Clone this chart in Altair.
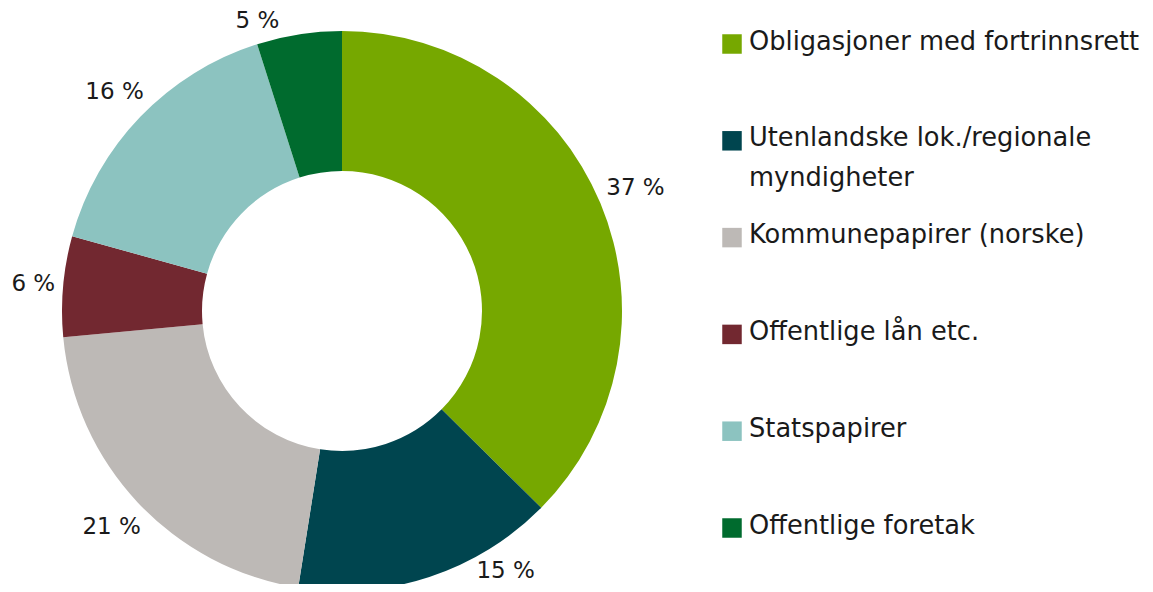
import altair as alt
import pandas as pd

categories = [
    "Obligasjoner med fortrinnsrett",
    "Utenlandske lok./regionale\nmyndigheter",
    "Kommunepapirer (norske)",
    "Offentlige lån etc.",
    "Statspapirer",
    "Offentlige foretak",
]
values = [37.4, 15.1, 21.0, 5.8, 15.8, 4.9]
labels = ["37 %", "15 %", "21 %", "6 %", "16 %", "5 %"]
colors = ["#76A800", "#00454F", "#BDB9B6", "#722830", "#8CC3C0", "#006B2E"]

df = pd.DataFrame({
    "cat": categories,
    "value": values,
    "label": labels,
    "idx": list(range(len(categories))),
})

FONT = "DejaVu Sans"
CX, CY = 334, 303
R_OUT, R_IN = 280, 140
R0 = 288           # gap circle for the outside labels
YMIN, YMAX = 13, 563  # keep labels inside the drawing

color = alt.Color("cat:N", scale=alt.Scale(domain=categories, range=colors), legend=None)

arc = alt.Chart(df).mark_arc(outerRadius=R_OUT, innerRadius=R_IN).encode(
    theta=alt.Theta("value:Q", stack=True),
    color=color,
    order=alt.Order("idx:Q"),
    x=alt.value(CX),
    y=alt.value(CY),
)

pct = alt.Chart(df).transform_window(
    cum="sum(value)", sort=[alt.SortField("idx")], frame=[None, 0]
).transform_joinaggregate(
    total="sum(value)"
).transform_calculate(
    ang="2*PI*(datum.cum - datum.value/2)/datum.total"
).transform_calculate(
    d=f"{R0} + length(datum.label)*7*abs(sin(datum.ang)) + 11*abs(cos(datum.ang))"
).transform_calculate(
    ly=f"clamp({CY} - datum.d*cos(datum.ang), {YMIN}, {YMAX})"
).transform_calculate(
    lx=f"{CX} + (sin(datum.ang) >= 0 ? 1 : -1)*sqrt(max(0, datum.d*datum.d - pow(datum.ly - {CY}, 2)))"
).mark_text(font=FONT, fontSize=23, color="#1a1a1a", baseline="middle").encode(
    x=alt.X("lx:Q", scale=None, axis=None),
    y=alt.Y("ly:Q", scale=None, axis=None),
    text="label:N",
)

yscale = alt.Scale(domain=[0, 5], range=[36, 520])

leg_sq = alt.Chart(df).mark_square(size=380, opacity=1).encode(
    x=alt.value(724),
    y=alt.Y("idx:Q", scale=yscale, axis=None),
    color=color,
)

leg_txt = alt.Chart(df).transform_calculate(
    lines="split(datum.cat, '\\n')"
).mark_text(
    align="left", baseline="top", dy=-14.5, font=FONT, fontSize=25.7,
    lineHeight=40, color="#1a1a1a"
).encode(
    x=alt.value(741),
    y=alt.Y("idx:Q", scale=yscale, axis=None),
    text="lines:N",
)

chart = alt.layer(arc, pct, leg_sq, leg_txt).resolve_scale(
    x="independent", y="independent"
).properties(
    width=1137, height=576, autosize=alt.AutoSizeParams(type="none"), padding=0
).configure_view(stroke=None)

chart.save("out.html", embed_options={"renderer": "svg", "actions": False})
